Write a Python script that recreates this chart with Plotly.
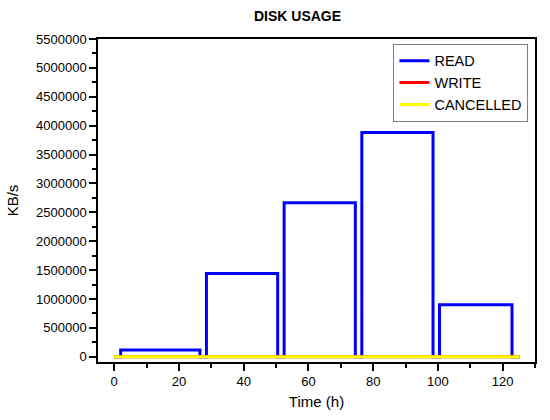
import plotly.graph_objects as go

time_h = [0, 2, 26.5, 28.5, 50.5, 52.5, 74.5, 76.5, 98.5, 100.5, 122.9, 125.3]
read_kbs = [0, 115000, 0, 1440000, 0, 2665000, 0, 3880000, 0, 900000, 0, 0]
base_time = [0, 125.3]
write_kbs = [0, 0]
cancelled_kbs = [0, 0]

fig = go.Figure()
fig.add_trace(go.Scatter(x=time_h, y=read_kbs, mode="lines", name="READ",
                         line=dict(color="#0000ff", width=3, shape="hv")))
fig.add_trace(go.Scatter(x=base_time, y=write_kbs, mode="lines", name="WRITE",
                         line=dict(color="#ff0000", width=3)))
fig.add_trace(go.Scatter(x=base_time, y=cancelled_kbs, mode="lines", name="CANCELLED",
                         line=dict(color="#ffff00", width=3)))

fig.update_layout(
    width=550, height=420,
    margin=dict(l=96, r=15, t=39, b=55),
    paper_bgcolor="white", plot_bgcolor="white",
    font=dict(family="Arial, Liberation Sans, sans-serif", color="black", size=13),
    title=dict(text="<b>DISK USAGE</b>", x=297.5 / 550, xanchor="center",
               y=1 - 16 / 420, yanchor="middle", font=dict(size=14)),
    showlegend=True,
    legend=dict(x=0.985, xanchor="right", y=0.985, yanchor="top",
                bordercolor="#808080", borderwidth=1, bgcolor="white",
                font=dict(size=14.5), itemwidth=30),
    xaxis=dict(range=[-5, 130], tickvals=[0, 20, 40, 60, 80, 100, 120],
               ticks="outside", ticklen=7, tickwidth=1.5, tickcolor="black",
               minor=dict(tickvals=[10, 30, 50, 70, 90, 110, 130], ticks="outside",
                          ticklen=4, tickwidth=1.5, tickcolor="black"),
               showline=True, linecolor="black", linewidth=1.5, mirror=True,
               showgrid=False, zeroline=False,
               title=dict(text="Time (h)", font=dict(size=15), standoff=8),
               tickfont=dict(size=13)),
    yaxis=dict(range=[-91000, 5500000], tickmode="linear", tick0=0, dtick=500000,
               tickformat="d",
               ticks="outside", ticklen=7, tickwidth=1.5, tickcolor="black",
               minor=dict(dtick=250000, tick0=0, ticks="outside", ticklen=4,
                          tickwidth=1.5, tickcolor="black"),
               showline=True, linecolor="black", linewidth=1.5, mirror=True,
               showgrid=False, zeroline=False,
               title=dict(text="KB/s", font=dict(size=15), standoff=14),
               tickfont=dict(size=13)),
)

fig.write_html("out.html", config={"displayModeBar": False},
               post_script="document.body.style.margin='0';")
